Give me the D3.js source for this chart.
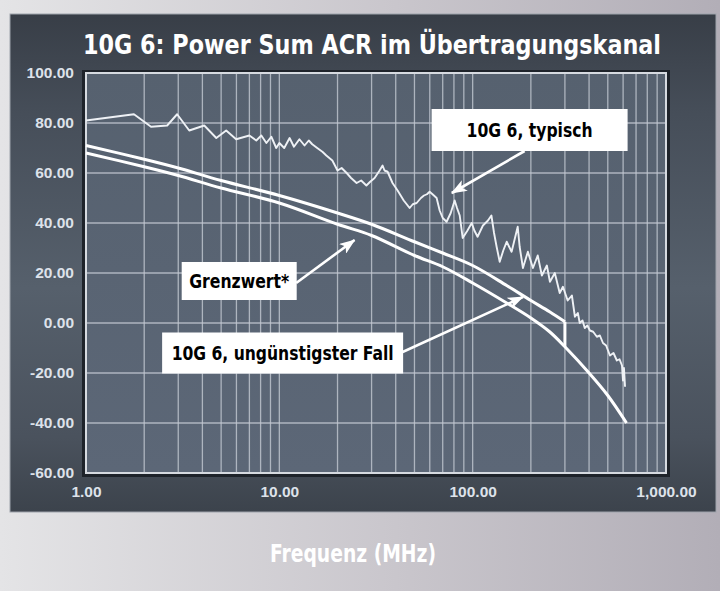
<!DOCTYPE html>
<html>
<head>
<meta charset="utf-8">
<script src="https://cdn.jsdelivr.net/npm/d3@7/dist/d3.min.js"></script>
<style>
  body { margin: 0; background: #d4d3d7; }
  svg { display: block; }
</style>
</head>
<body>
<svg id="chart" width="720" height="591"></svg>
<script>
// ---- data ----
const xTicks = [1, 10, 100, 1000];
const xTickLabels = ["1.00", "10.00", "100.00", "1,000.00"];
const yTicks = [-60, -40, -20, 0, 20, 40, 60, 80, 100];
const yTickLabels = ["-60.00", "-40.00", "-20.00", "0.00", "20.00", "40.00", "60.00", "80.00", "100.00"];

// Grenzwert* (lower smooth curve), [MHz, dB]
const limitCurve = [
  [1, 68], [2, 62.5], [3, 59], [5, 54], [10, 48], [20, 39.5], [30, 35], [50, 27],
  [70, 22.5], [100, 16], [150, 8], [200, 2], [250, -3.5], [300, -9.5], [400, -20],
  [500, -29], [625, -40]
];

// 10G 6, ungünstigster Fall (upper smooth curve, drops to the limit at 300 MHz)
const worstCurve = [
  [1, 71], [2, 65.5], [3, 62], [5, 57], [10, 51], [20, 44], [30, 39.5], [50, 32.5],
  [70, 28], [100, 23], [150, 15], [200, 9], [250, 4.5], [300, 0.5], [300, -9.5]
];

// 10G 6, typisch (measured, noisy)
const typicalCurve = [
  [1.0, 81], [1.77, 83.5], [2.17, 78.5], [2.63, 79], [2.96, 83.5], [3.42, 77], [4.09, 79],
  [4.72, 74], [5.31, 77], [5.98, 73.5], [7.0, 75], [7.6, 73], [8.07, 75], [8.57, 72],
  [9.09, 74.5], [9.64, 70], [10, 72], [10.6, 70], [11.3, 74], [11.9, 70.5], [12.7, 73.5],
  [13.5, 71], [14.2, 73], [14.8, 71.5], [15.7, 70], [16.7, 68.5], [17.5, 67], [18.8, 65],
  [20, 61], [21, 62], [22.3, 60], [23.5, 58], [25.1, 56], [26.5, 57], [28.2, 55],
  [29.5, 56.5], [31.1, 58], [33, 61], [34.2, 63], [35, 61], [36.3, 60.5], [38.5, 56],
  [40.9, 53], [44, 49], [47.2, 46], [49, 47.5], [51.3, 48], [54, 50], [56, 51], [58, 51.5],
  [59.9, 52.5], [62, 51.5], [65.1, 50], [67.5, 45], [70, 42], [73.3, 40.5], [77, 44],
  [80.7, 49], [83, 46], [85.7, 43], [88.8, 34], [94, 37], [98.9, 40], [102, 37], [106, 34.5],
  [113, 39], [120, 41], [125, 43], [129, 36], [133, 30.5], [138, 24.5], [144, 29], [150, 32.5],
  [159, 28.5], [171, 38.5], [175, 30.5], [182, 22], [193, 28.5], [205, 22], [217, 27],
  [228, 19], [242, 23], [251, 16.5], [266, 20], [282, 12], [293, 14.5], [310, 9], [326, 11],
  [338, 2.5], [350, 4], [358, 0], [370, 1], [380, -2], [392, -1], [404, -3], [420, -3.5],
  [439, -5.5], [455, -5], [472, -8], [490, -9], [513, -13], [535, -12], [557, -15],
  [575, -14.5], [592, -17], [599, -23], [606, -18], [614, -25.5]
];

const title = "10G 6: Power Sum ACR im Übertragungskanal";
const xTitle = "Frequenz (MHz)";

// callouts: label anchor and arrow target in data units
const notes = [
  { text: "10G 6, typisch", at: [197, 77.2], target: [78, 52], w: 196, h: 42, tw: 126, start: [-5, 21] },
  { text: "Grenzwert*", at: [6.2, 16.8], target: [24.5, 33.2], w: 115, h: 38, tw: 100, start: [57, 2] },
  { text: "10G 6, ungünstigster Fall", at: [10.4, -12], target: [182, 10.4], w: 241, h: 41, tw: 222, start: [120, -1] }
];

// ---- drawing ----
const svg = d3.select("#chart");
const defs = svg.append("defs");

const bg = defs.append("linearGradient").attr("id", "bg").attr("x1", 0).attr("x2", 1).attr("y1", 0).attr("y2", 0);
bg.append("stop").attr("offset", "0%").attr("stop-color", "#e4e4e6");
bg.append("stop").attr("offset", "55%").attr("stop-color", "#c9c6cc");
bg.append("stop").attr("offset", "100%").attr("stop-color", "#b2aeb7");

const panelGrad = defs.append("linearGradient").attr("id", "panel").attr("x1", 0).attr("x2", 0).attr("y1", 0).attr("y2", 1);
panelGrad.append("stop").attr("offset", "0%").attr("stop-color", "#383e47");
panelGrad.append("stop").attr("offset", "20%").attr("stop-color", "#464e59");
panelGrad.append("stop").attr("offset", "55%").attr("stop-color", "#56606c");
panelGrad.append("stop").attr("offset", "85%").attr("stop-color", "#4a525d");
panelGrad.append("stop").attr("offset", "100%").attr("stop-color", "#3c434c");

const plotGrad = defs.append("linearGradient").attr("id", "plotbg").attr("x1", 0).attr("x2", 0).attr("y1", 0).attr("y2", 1);
plotGrad.append("stop").attr("offset", "0%").attr("stop-color", "#56616f");
plotGrad.append("stop").attr("offset", "100%").attr("stop-color", "#5c6777");

defs.append("marker")
  .attr("id", "head")
  .attr("markerUnits", "userSpaceOnUse")
  .attr("markerWidth", 16).attr("markerHeight", 12)
  .attr("refX", 15).attr("refY", 6)
  .attr("orient", "auto")
  .append("path").attr("d", "M0,0 L16,6 L0,12 L4,6 z").attr("fill", "#fff");

svg.append("rect").attr("width", 720).attr("height", 591).attr("fill", "url(#bg)");

svg.append("rect")
  .attr("x", 10).attr("y", 14).attr("width", 706).attr("height", 498)
  .attr("fill", "url(#panel)").attr("stroke", "#9ea3ab").attr("stroke-width", 1);

const x = d3.scaleLog().domain([1, 1000]).range([86, 666]);
const y = d3.scaleLinear().domain([-60, 100]).range([473, 73]);

// plot background + shadow frame
svg.append("rect")
  .attr("x", x(1) - 4).attr("y", y(100) - 3)
  .attr("width", x(1000) - x(1) + 8).attr("height", y(-60) - y(100) + 7)
  .attr("fill", "#1e232a");
svg.append("rect")
  .attr("x", x(1)).attr("y", y(100))
  .attr("width", x(1000) - x(1)).attr("height", y(-60) - y(100))
  .attr("fill", "url(#plotbg)");

// grid
const minorX = [];
[1, 10, 100].forEach(d => { for (let k = 2; k <= 9; k++) minorX.push(d * k); });
minorX.push(10, 100);

const grid = svg.append("g").attr("stroke", "#c3c9d2").attr("stroke-width", 1.3).attr("stroke-opacity", 0.8);
grid.selectAll(".vx").data(minorX).enter().append("line")
  .attr("x1", d => x(d)).attr("x2", d => x(d))
  .attr("y1", y(100)).attr("y2", y(-60));
grid.selectAll(".hy").data(yTicks.slice(1, -1)).enter().append("line")
  .attr("x1", x(1)).attr("x2", x(1000))
  .attr("y1", d => y(d)).attr("y2", d => y(d));

svg.append("rect")
  .attr("x", x(1)).attr("y", y(100))
  .attr("width", x(1000) - x(1)).attr("height", y(-60) - y(100))
  .attr("fill", "none").attr("stroke", "#d6dae0").attr("stroke-width", 2);

// axes labels
const yAxis = d3.axisLeft(y).tickValues(yTicks).tickSize(0).tickPadding(10)
  .tickFormat((d, i) => yTickLabels[i]);
const gy = svg.append("g").attr("transform", `translate(${x(1) - 2},0)`).call(yAxis);
gy.select(".domain").remove();
gy.selectAll("text")
  .attr("font-family", "'Liberation Sans', Arial, sans-serif")
  .attr("font-weight", "bold").attr("font-size", 15.5)
  .attr("fill", "#dde2ea");

const xAxis = d3.axisBottom(x).tickValues(xTicks).tickSize(0).tickPadding(13)
  .tickFormat((d, i) => xTickLabels[i]);
const gx = svg.append("g").attr("transform", `translate(0,${y(-60)})`).call(xAxis);
gx.select(".domain").remove();
gx.selectAll("text")
  .attr("font-family", "'Liberation Sans', Arial, sans-serif")
  .attr("font-weight", "bold").attr("font-size", 15.5)
  .attr("fill", "#dde2ea");

// curves
const line = d3.line().x(d => x(d[0])).y(d => y(d[1]));
const smooth = d3.line().x(d => x(d[0])).y(d => y(d[1])).curve(d3.curveCatmullRom.alpha(0.5));

svg.append("path").datum(typicalCurve)
  .attr("d", line)
  .attr("fill", "none").attr("stroke", "#eef1f5").attr("stroke-width", 1.9)
  .attr("stroke-linejoin", "round");

svg.append("path").datum(limitCurve)
  .attr("d", smooth)
  .attr("fill", "none").attr("stroke", "#ffffff").attr("stroke-width", 3);

svg.append("path").datum(worstCurve.slice(0, -1))
  .attr("d", smooth)
  .attr("fill", "none").attr("stroke", "#ffffff").attr("stroke-width", 3);
svg.append("path").datum(worstCurve.slice(-2))
  .attr("d", line)
  .attr("fill", "none").attr("stroke", "#ffffff").attr("stroke-width", 3);

// titles
svg.append("text")
  .attr("x", 372).attr("y", 54)
  .attr("text-anchor", "middle")
  .attr("font-family", "'Liberation Sans Narrow', 'DejaVu Sans Condensed', sans-serif")
  .attr("font-weight", "bold").attr("font-size", 27)
  .attr("textLength", 578).attr("lengthAdjust", "spacingAndGlyphs")
  .attr("fill", "#ffffff")
  .text(title);

svg.append("text")
  .attr("x", 353).attr("y", 562)
  .attr("text-anchor", "middle")
  .attr("font-family", "'Liberation Sans Narrow', 'DejaVu Sans Condensed', sans-serif")
  .attr("font-weight", "bold").attr("font-size", 25)
  .attr("textLength", 166).attr("lengthAdjust", "spacingAndGlyphs")
  .attr("fill", "#ffffff")
  .text(xTitle);

// callouts
notes.forEach(n => {
  const cx = x(n.at[0]), cy = y(n.at[1]);
  svg.append("line")
    .attr("x1", cx + n.start[0]).attr("y1", cy + n.start[1])
    .attr("x2", x(n.target[0])).attr("y2", y(n.target[1]))
    .attr("stroke", "#fff").attr("stroke-width", 2.6)
    .attr("marker-end", "url(#head)");
  svg.append("rect")
    .attr("x", cx - n.w / 2).attr("y", cy - n.h / 2)
    .attr("width", n.w).attr("height", n.h)
    .attr("fill", "#ffffff");
  svg.append("text")
    .attr("x", cx).attr("y", cy + 7)
    .attr("text-anchor", "middle")
    .attr("font-family", "'Liberation Sans Narrow', 'DejaVu Sans Condensed', sans-serif")
    .attr("font-weight", "bold").attr("font-size", 20)
    .attr("textLength", n.tw).attr("lengthAdjust", "spacingAndGlyphs")
    .attr("fill", "#000")
    .text(n.text);
});
</script>
</body>
</html>
